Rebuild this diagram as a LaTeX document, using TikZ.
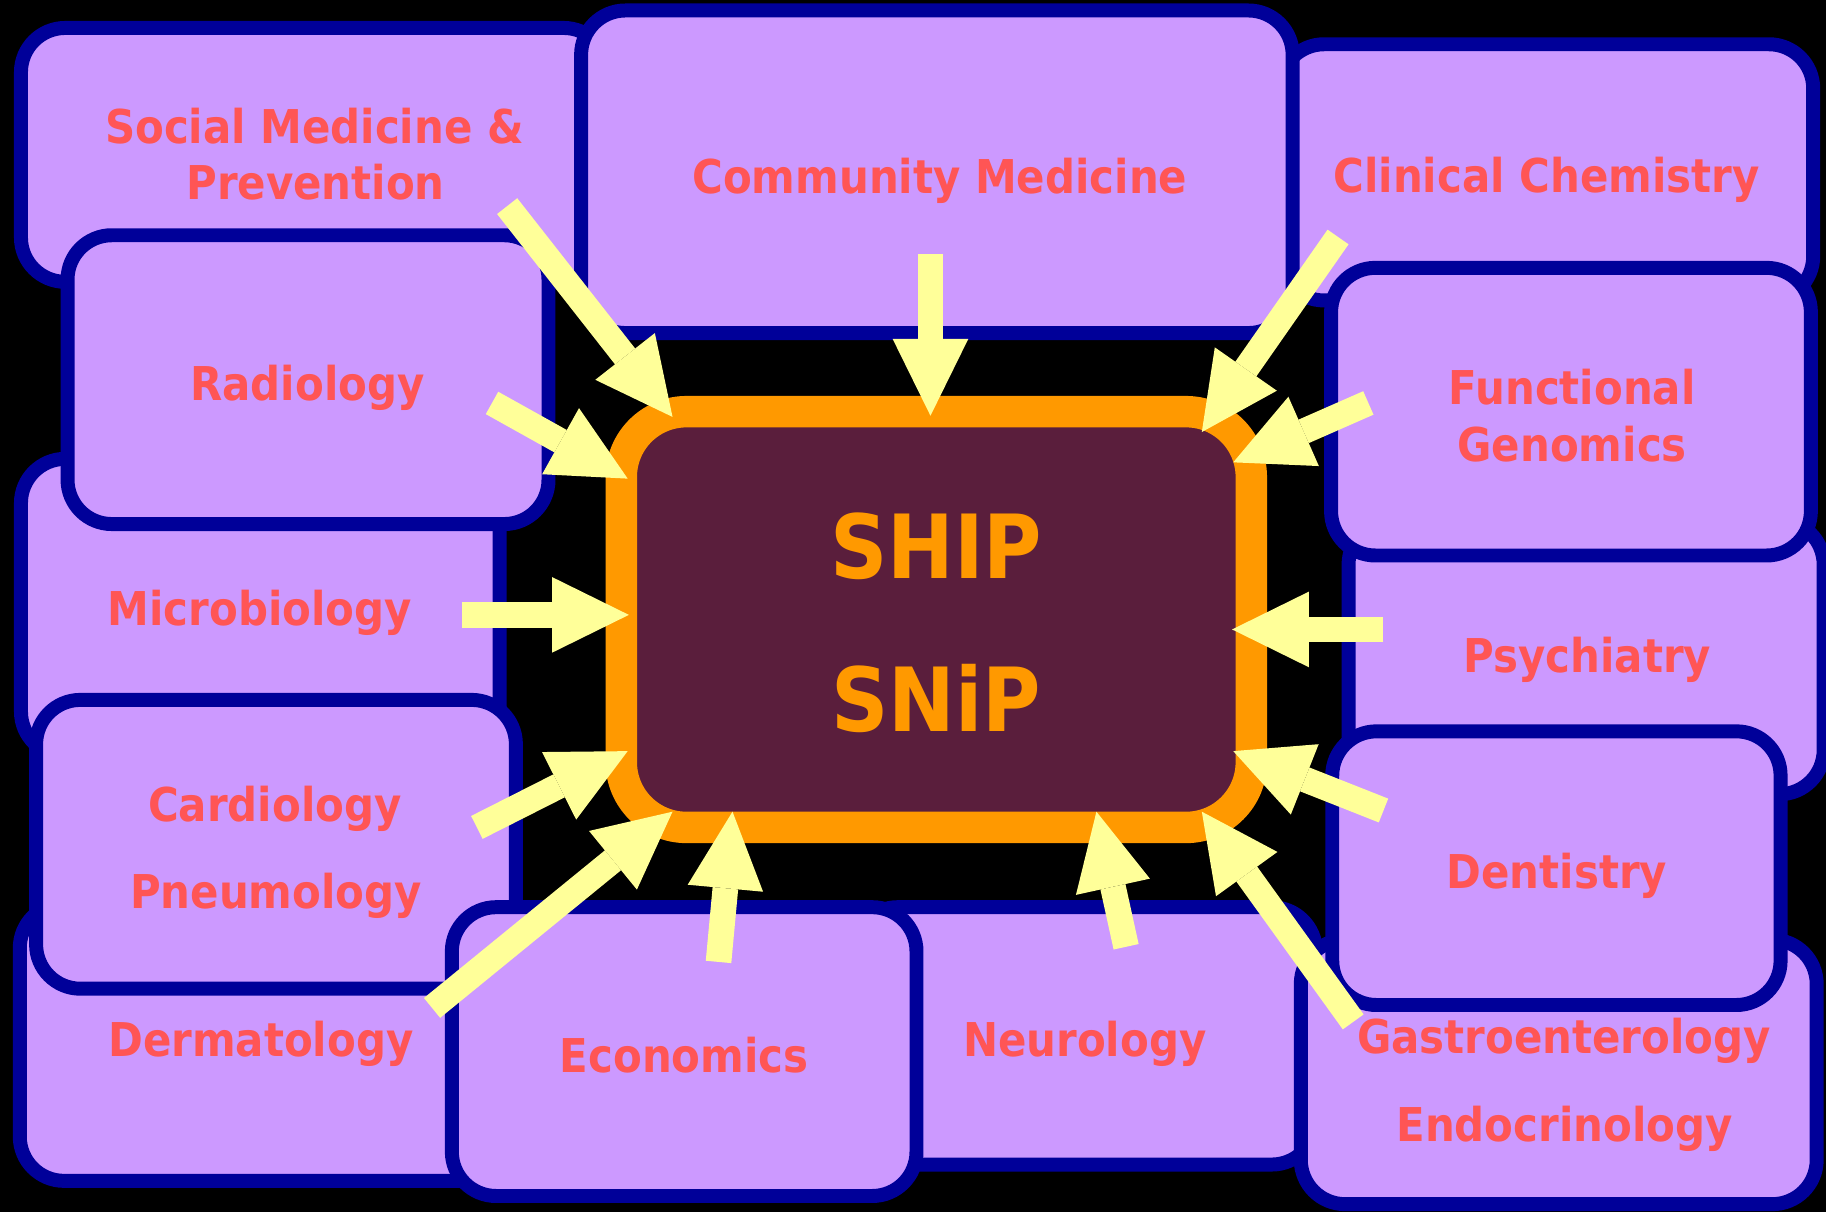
\documentclass[tikz,border=0pt]{standalone}
\usepackage{fontspec}
\usetikzlibrary{fit,arrows.meta}
\newfontfamily\dfont[FakeStretch=0.9]{DejaVu Sans Bold}
\definecolor{lav}{HTML}{CC99FF}
\definecolor{navy}{HTML}{000099}
\definecolor{salmon}{HTML}{FF5555}
\definecolor{ayellow}{HTML}{FFFF99}
\definecolor{orng}{HTML}{FF9900}
\definecolor{maroon}{HTML}{5A1E3C}
\tikzset{
  dept/.style={draw=navy, fill=lav, line width=12pt, rounded corners=38pt, inner sep=0pt},
  lbl/.style={anchor=base, inner sep=0pt, text=salmon, font=\dfont\fontsize{40}{48}\selectfont},
  core/.style={draw=orng, fill=maroon, line width=27pt, rounded corners=56pt, inner sep=0pt},
  corelbl/.style={anchor=base, inner sep=0pt, text=orng, font=\dfont\fontsize{76}{80}\selectfont},
  arr/.style={draw=ayellow, line width=22pt, line cap=butt,
    -{Triangle[width=65pt,length=66pt,line width=0pt]}}
}
\begin{document}
\begin{tikzpicture}[x=1pt,y=-1pt]
\fill[black] (0,0) rectangle (1568,1041);
\useasboundingbox (0,0) rectangle (1568,1041);
\clip (0,0) rectangle (1568,1041);
% back boxes
\node[dept, fit={(18,24) (522,242)}] (social) {};
\node[dept, fit={(1099,38) (1557,258)}] (clinical) {};
\node[dept, fit={(18,394) (429,649)}] (micro) {};
\node[dept, fit={(17,776) (431,1014)}] (derm) {};
\node[dept, fit={(733,779) (1130,1000)}] (neuro) {};
\node[dept, fit={(1158,447) (1566,682)}] (psych) {};
\node[dept, fit={(1117,807) (1560,1034)}] (gastro) {};
% front boxes
\node[dept, fit={(499,9) (1110,286)}] (community) {};
\node[dept, fit={(58,202) (471,450)}] (radio) {};
\node[dept, fit={(31,601) (443,849)}] (cardio) {};
\node[dept, fit={(388,779) (787,1027)}] (econ) {};
\node[dept, fit={(1143,230) (1555,477)}] (functional) {};
\node[dept, fit={(1144,628) (1529,863)}] (dent) {};
% centre
\node[core, fit={(533.5,353.5) (1074.5,710.5)}] (ship) {};
\node[corelbl] (shiptxt) at (804,497) {SHIP};
\node[corelbl] (sniptxt) at (804,628) {SNiP};
% labels
\node[lbl] (l1) at (270,123) {Social Medicine \&};
\node[lbl] (l2) at (271,171.5) {Prevention};
\node[lbl] (l3) at (807,166) {Community Medicine};
\node[lbl] (l4) at (1328,165) {Clinical Chemistry};
\node[lbl] (l5) at (264,343.5) {Radiology};
\node[lbl] (l6) at (1350,347.5) {Functional};
\node[lbl] (l7) at (1350,396) {Genomics};
\node[lbl] (l8) at (223,537) {Microbiology};
\node[lbl] (l9) at (1363,577.5) {Psychiatry};
\node[lbl] (l10) at (236,705) {Cardiology};
\node[lbl] (l11) at (237,780) {Pneumology};
\node[lbl] (l12) at (1337,763) {Dentistry};
\node[lbl] (l13) at (224,907) {Dermatology};
\node[lbl] (l14) at (587.5,921) {Economics};
\node[lbl] (l15) at (931.5,907) {Neurology};
\node[lbl] (l16) at (1343,905) {Gastroenterology};
\node[lbl] (l17) at (1343.5,980) {Endocrinology};
% arrow ends
\coordinate (tA) at (435.5,177);  \coordinate (hA) at (577.5,358);
\coordinate (tB) at (799,218);    \coordinate (hB) at (799,357);
\coordinate (tC) at (1149,203.5); \coordinate (hC) at (1032,371);
\coordinate (tD) at (422.5,346);  \coordinate (hD) at (539,411);
\coordinate (tE) at (1175,346);   \coordinate (hE) at (1059,397);
\coordinate (tF) at (397,528);    \coordinate (hF) at (540,528);
\coordinate (tG) at (1188,540.5); \coordinate (hG) at (1058,540.5);
\coordinate (tH) at (409.5,710.5);\coordinate (hH) at (539,645);
\coordinate (tI) at (1188,696);   \coordinate (hI) at (1059,645);
\coordinate (tJ) at (371,865.5);  \coordinate (hJ) at (577.5,697);
\coordinate (tK) at (617,826);    \coordinate (hK) at (629,697);
\coordinate (tL) at (967,813);    \coordinate (hL) at (941.5,697);
\coordinate (tM) at (1162,877.5); \coordinate (hM) at (1032,697);
\foreach \a in {A,B,C,D,E,F,G,H,I,J,K,L,M}{\draw[arr] (t\a) -- (h\a);}
\end{tikzpicture}
\end{document}
